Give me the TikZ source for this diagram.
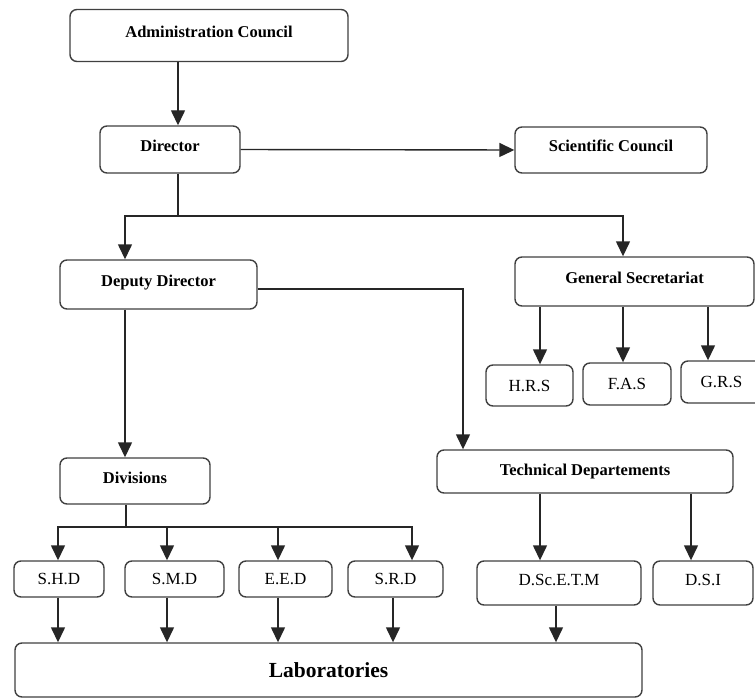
\documentclass[tikz,border=0pt]{standalone}
\usepackage{fontspec}
\setmainfont{Liberation Serif}
\usetikzlibrary{arrows.meta}
\begin{document}
\begin{tikzpicture}[x=1pt,y=-1pt,
  box/.style={draw=black!75, line width=1.4pt, rounded corners=7pt, fill=white,
    inner sep=0pt, align=center},
  bigbox/.style={box, font=\bfseries\fontsize{16.5}{19}\selectfont, text depth=8pt},
  smallbox/.style={box, font=\fontsize{17}{20}\selectfont},
  conn/.style={line width=1.4pt, black!85},
  arr/.style={conn, -{Triangle[width=14pt,length=15pt]}},
  arrs/.style={conn, {Triangle[width=14pt,length=15pt]}-{Triangle[width=14pt,length=15pt]}}
]
\useasboundingbox (0,0) rectangle (755,698);

% boxes
\node[bigbox, minimum width=278, minimum height=52] (admin) at (209,35.5) {Administration Council};
\node[bigbox, minimum width=140, minimum height=47] (dir) at (170,149.5) {Director};
\node[bigbox, minimum width=192, minimum height=46] (sci) at (611,150) {Scientific Council};
\node[bigbox, minimum width=197, minimum height=49] (dep) at (158.5,284.5) {Deputy Director};
\node[bigbox, minimum width=239, minimum height=49] (gs) at (634.5,281.5) {General Secretariat};
\node[smallbox, minimum width=87, minimum height=41] (hrs) at (529.5,385.5) {H.R.S};
\node[smallbox, minimum width=88, minimum height=42] (fas) at (627,384) {F.A.S};
\node[smallbox, minimum width=81, minimum height=42] (grs) at (721.5,382) {G.R.S};
\node[bigbox, text depth=6pt, minimum width=150, minimum height=46] (div) at (135,481) {Divisions};
\node[bigbox, text depth=4pt, minimum width=296, minimum height=43] (tech) at (585,471.5) {Technical Departements};
\node[smallbox, minimum width=90, minimum height=36] (shd) at (59,579) {S.H.D};
\node[smallbox, minimum width=99, minimum height=36] (smd) at (174.5,579) {S.M.D};
\node[smallbox, minimum width=93, minimum height=36] (eed) at (285.5,579) {E.E.D};
\node[smallbox, minimum width=95, minimum height=36] (srd) at (395.5,579) {S.R.D};
\node[smallbox, text depth=6pt, minimum width=164, minimum height=44] (dsc) at (559,583) {D.Sc.E.T.M};
\node[smallbox, text depth=6pt, minimum width=100, minimum height=44] (dsi) at (703,583) {D.S.I};
\node[box, font=\bfseries\fontsize{21.5}{25}\selectfont, minimum width=627, minimum height=54] (lab) at (328.5,670) {Laboratories};

% helper coordinates
\coordinate (xa) at (178,0);
\coordinate (bL) at (125,216);
\coordinate (bR) at (623,216);
\coordinate (tx) at (463,0);
\coordinate (g1) at (540,0);
\coordinate (g2) at (623,0);
\coordinate (g3) at (708,0);
\coordinate (dv) at (126,527);
\coordinate (d1) at (58,527);
\coordinate (d2) at (167,527);
\coordinate (d3) at (278,527);
\coordinate (d4) at (412,527);
\coordinate (l4) at (393,0);
\coordinate (t1) at (540,0);
\coordinate (t2) at (691,0);
\coordinate (l5) at (556,0);

% connectors
\draw[arr] (admin.south -| xa) -- (dir.north -| xa);
\draw[arr] (dir.east) -- (sci.west);
\draw[conn] (dir.south -| xa) -- (xa |- bL);
\draw[arrs] (dep.north -| bL) -- (bL) -- (bR) -- (gs.north -| bR);
\draw[arr] (dep.south -| bL) -- (div.north -| bL);
\draw[arr] ([yshift=-4.5pt]dep.east) -| (tech.north -| tx);
\draw[arr] (gs.south -| g1) -- (hrs.north -| g1);
\draw[arr] (gs.south -| g2) -- (fas.north -| g2);
\draw[arr] (gs.south -| g3) -- (grs.north -| g3);
\draw[conn] (div.south -| dv) -- (dv);
\draw[arrs] (shd.north -| d1) -- (d1) -- (d4) -- (srd.north -| d4);
\draw[arr] (d2) -- (smd.north -| d2);
\draw[arr] (d3) -- (eed.north -| d3);
\draw[arr] (shd.south -| d1) -- (lab.north -| d1);
\draw[arr] (smd.south -| d2) -- (lab.north -| d2);
\draw[arr] (eed.south -| d3) -- (lab.north -| d3);
\draw[arr] (srd.south -| l4) -- (lab.north -| l4);
\draw[arr] (tech.south -| t1) -- (dsc.north -| t1);
\draw[arr] (tech.south -| t2) -- (dsi.north -| t2);
\draw[arr] (dsc.south -| l5) -- (lab.north -| l5);
\end{tikzpicture}
\end{document}
